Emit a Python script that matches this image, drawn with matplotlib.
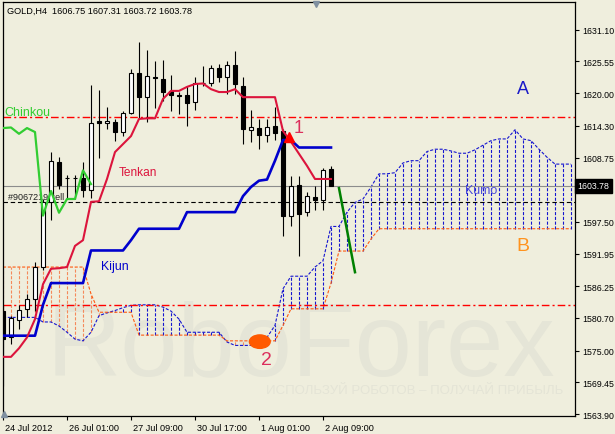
import numpy as np
import matplotlib.pyplot as plt
from matplotlib.patches import Ellipse
from matplotlib.transforms import ScaledTranslation

plt.rcParams['font.family'] = ['Liberation Sans', 'DejaVu Sans']

# GOLD H4 candles, bar 0 sits on the left edge of the chart
opens = [1582.0, 1577.4, 1580.4, 1582.3, 1584.0, 1589.6, 1601.0, 1608.0, 1605.2, 1605.2,
         1605.1, 1603.1, 1615.1, 1614.7, 1614.9, 1613.2, 1616.5, 1623.5, 1619.3, 1622.9,
         1622.5, 1620.3, 1619.6, 1619.6, 1618.4, 1621.7, 1621.7, 1624.4, 1622.8, 1624.9,
         1621.2, 1613.6, 1613.9, 1612.7, 1614.2, 1613.3, 1598.5, 1603.9, 1599.3, 1601.8,
         1601.3, 1606.75]
highs = [1583.0, 1581.0, 1583.0, 1584.9, 1590.5, 1601.5, 1609.8, 1608.9, 1605.7, 1605.7,
         1607.9, 1621.4, 1620.6, 1617.5, 1615.4, 1616.9, 1624.2, 1628.9, 1627.5, 1625.6,
         1625.8, 1623.1, 1620.2, 1621.2, 1622.9, 1624.8, 1625.0, 1625.1, 1625.7, 1627.4,
         1622.9, 1617.0, 1615.4, 1615.5, 1617.5, 1613.8, 1605.5, 1605.5, 1602.8, 1603.7,
         1607.0, 1607.31]
lows = [1568.8, 1576.1, 1578.7, 1580.9, 1582.0, 1589.0, 1597.8, 1603.2, 1601.6, 1601.5,
        1601.8, 1601.6, 1608.6, 1613.7, 1611.6, 1612.6, 1616.3, 1615.5, 1614.9, 1617.4,
        1618.7, 1616.8, 1616.4, 1614.2, 1617.1, 1621.2, 1621.3, 1621.9, 1619.8, 1619.8,
        1611.1, 1611.5, 1610.2, 1611.4, 1611.8, 1595.0, 1596.7, 1591.6, 1598.5, 1599.5,
        1599.5, 1603.72]
closes = [1577.0, 1580.7, 1582.1, 1584.0, 1589.6, 1600.9, 1608.2, 1604.0, 1605.1, 1605.1,
          1603.0, 1614.7, 1614.7, 1615.1, 1613.2, 1616.5, 1623.5, 1619.4, 1623.0, 1622.7,
          1620.2, 1619.6, 1619.5, 1618.3, 1621.7, 1621.8, 1624.4, 1622.8, 1624.9, 1621.6,
          1613.7, 1614.0, 1612.7, 1614.0, 1613.0, 1598.5, 1603.7, 1598.9, 1602.0, 1601.4,
          1606.6, 1603.78]

# Ichimoku lines
tenkan = [1573.9, 1573.9, 1575.4, 1577.3, 1580.5, 1586.6, 1589.3, 1589.4, 1589.6, 1593.3,
          1594.3, 1601.0, 1601.1, 1605.0, 1609.7, 1611.1, 1612.5, 1615.5, 1615.6, 1615.6,
          1619.0, 1620.4, 1620.4, 1621.1, 1621.6, 1621.7, 1620.7, 1620.2, 1620.2, 1620.7,
          1619.3, 1619.3, 1619.3, 1619.3, 1619.3, 1613.4, 1611.5, 1609.4, 1607.3, 1605.0,
          1605.0, 1605.0]
kijun = [1577.6, 1577.6, 1577.6, 1577.6, 1577.6, 1583.0, 1586.8, 1586.8, 1586.8, 1586.8,
         1586.8, 1592.5, 1592.5, 1592.5, 1592.5, 1592.5, 1594.3, 1596.3, 1596.3, 1596.3,
         1596.3, 1596.3, 1596.3, 1599.2, 1599.2, 1599.2, 1599.2, 1599.2, 1599.2, 1599.2,
         1602.0, 1603.6, 1604.7, 1604.9, 1608.2, 1611.8, 1611.8, 1610.5, 1610.5, 1610.5,
         1610.5, 1610.5]
chinkou = [1613.9, 1614.0, 1612.9, 1613.9, 1613.2, 1598.6, 1602.9, 1599.1, 1601.5, 1601.5,
           1606.5, 1604.1]
senkou_a = [1580.8, 1580.8, 1580.8, 1580.8, 1580.8, 1580.0, 1580.0, 1579.3, 1578.2, 1577.0,
            1576.7, 1578.2, 1581.1, 1581.6, 1582.0, 1582.5, 1582.9, 1583.0, 1583.0, 1583.0,
            1582.6, 1581.9, 1580.5, 1578.2, 1578.2, 1578.2, 1578.2, 1578.2, 1576.5, 1575.9,
            1575.9, 1575.9, 1576.2, 1577.3, 1579.4, 1585.8, 1588.0, 1588.0, 1588.0, 1589.6,
            1590.7, 1596.7, 1596.7, 1599.2, 1600.9, 1601.5, 1603.6, 1605.9, 1605.9, 1606.1,
            1607.8, 1608.2, 1608.2, 1609.8, 1610.2, 1610.2, 1609.9, 1609.5, 1609.5, 1610.1,
            1610.9, 1611.7, 1612.0, 1612.0, 1613.6, 1612.0, 1611.7, 1610.2, 1608.8, 1607.6,
            1607.6, 1607.6]
senkou_b = [1589.6] * 11 + [1584.9] + [1581.7] * 5 + [1577.7] * 11 + [1576.7] * 7 + \
           [1579.4] + [1582.3] * 5 + [1586.8] + [1592.4] * 4 + [1594.5] + [1596.3] * 25

# hand drawn forecast and levels
forecast_bars = [42, 44]
forecast_prices = [1603.4, 1588.7]
red_levels = [1615.84, 1582.97]
last_price = 1603.78
order_price = 1600.98

y_ticks = [1631.10, 1625.55, 1620.00, 1614.30, 1608.75, 1597.50, 1591.95,
           1586.25, 1580.70, 1575.00, 1569.45, 1563.90]
date_bars = [0, 8, 16, 24, 32, 40]
date_labels = ["24 Jul 2012", "26 Jul 01:00", "27 Jul 09:00",
               "30 Jul 17:00", "1 Aug 01:00", "2 Aug 09:00"]

BG = '#EFEEDD'
DOT = (0, (2.8, 1.5))

fig = plt.figure(figsize=(6.15, 4.35), dpi=100, facecolor=BG)
ax = fig.add_axes([3 / 615, 18 / 435, 572 / 615, 414 / 435])
ax.set_facecolor(BG)
ax.set_xlim(0, 71.5)
ax.set_ylim(1563.56, 1635.94)

# watermark
ax.text(0.077, 0.101, "RoboForex", transform=ax.transAxes, fontsize=74,
        color='#E5E5D7', va='baseline', ha='left', zorder=0.5)
ax.text(0.979, 0.062, "ИСПОЛЬЗУЙ РОБОТОВ – ПОЛУЧАЙ ПРИБЫЛЬ", transform=ax.transAxes,
        fontsize=9.5, color='#E4E4D6', va='center', ha='right', zorder=0.5)

# kumo
sa = np.array(senkou_a)
sb = np.array(senkou_b)
cx = np.arange(len(sa))
bull = sa >= sb
ax.vlines(cx[bull], sb[bull], sa[bull], colors='#1515D0', linestyles=DOT, lw=0.8, zorder=1)
ax.vlines(cx[~bull], sa[~bull], sb[~bull], colors='#F5895A', linestyles=DOT, lw=0.8, zorder=1)
ax.plot(cx, sa, color='#1515D0', ls=DOT, lw=0.8, zorder=1.2)
ax.plot(cx, sb, color='#FF5A10', ls=DOT, lw=0.8, zorder=1.2)

# levels
for lv in red_levels:
    ax.axhline(lv, color='#FF0000', lw=1.0, ls=(0, (5.5, 2.2, 1.5, 2.2)), zorder=2)
ax.axhline(last_price, color='#8C8C8C', lw=0.8, zorder=2)
ax.axhline(order_price, color='black', lw=0.8, ls=(0, (4, 2.5)), zorder=2)
ax.text(0.66, 1601.9, "#9067219 sell", fontsize=6.5, color='#202020',
        va='center', ha='left', zorder=2.2)

# candles
o = np.array(opens)
c = np.array(closes)
bars = np.arange(len(c))
up = c >= o
ax.vlines(bars, lows, highs, color='black', lw=0.8, zorder=3)
ax.bar(bars[up], (c - o)[up], bottom=o[up], width=0.5, facecolor='white',
       edgecolor='black', linewidth=0.8, zorder=3.1)
ax.bar(bars[~up], (o - c)[~up], bottom=c[~up], width=0.5, facecolor='black',
       edgecolor='black', linewidth=0.8, zorder=3.1)

# indicator lines
ax.plot(np.arange(len(chinkou)), chinkou, color='#32CD32', lw=1.6, zorder=4)
ax.plot(bars, kijun, color='#0000CD', lw=1.9, zorder=4.1)
ax.plot(bars, tenkan, color='#DC143C', lw=1.5, zorder=4.2)
ax.plot(forecast_bars, forecast_prices, color='#008000', lw=1.8, zorder=4.3)
ax.plot([35.7], [1612.3], marker='^', ms=7, color='#FF0000', zorder=4.4)

# annotations
ax.add_patch(Ellipse((32.1, 1576.56), 2.6, 2.35, color='#FF5A00', zorder=5))
ax.text(0.125, 1616.7, "Chinkou", fontsize=9, color='#32CD32', va='center', zorder=5)
ax.text(14.4, 1606.2, "Tenkan", fontsize=8.6, color='#DC143C', va='center', zorder=5)
ax.text(12.25, 1589.7, "Kijun", fontsize=8.8, color='#0000CD', va='center', zorder=5)
ax.text(57.8, 1603.1, "Kumo", fontsize=9, color='#4B4BDB', va='center', zorder=5)
ax.text(65.0, 1620.85, "A", fontsize=13, color='#1A1AC8', ha='center', va='center', zorder=5)
ax.text(64.94, 1593.4, "B", fontsize=14, color='#FF931E', ha='center', va='center', zorder=5)
ax.text(36.9, 1614.0, "1", fontsize=13, color='#DC2F5C', ha='center', va='center', zorder=5)
ax.text(32.94, 1573.5, "2", fontsize=14, color='#DC2F5C', ha='center', va='center', zorder=5)

ax.text(0.007, 0.981, "GOLD,H4  1606.75 1607.31 1603.72 1603.78", transform=ax.transAxes,
        fontsize=6.6, color='black', va='center', ha='left', zorder=6)
ax.plot([39.1], [0.995], marker='v', ms=5, color='#8090A0', clip_on=False,
        transform=ax.get_xaxis_transform(), zorder=6)
ax.plot([0.15], [0.006], marker='^', ms=4, color='#8090A0', clip_on=False,
        transform=ax.get_xaxis_transform(), zorder=6)

# axes
for sp in ax.spines.values():
    sp.set_color('black')
    sp.set_linewidth(0.9)
ax.yaxis.tick_right()
ax.set_yticks(y_ticks)
ax.set_yticklabels([f"{v:.2f}" for v in y_ticks])
ax.tick_params(axis='y', direction='out', length=3, width=0.8, pad=2,
               labelsize=6.3, colors='black')
ax.set_xticks(date_bars)
ax.set_xticklabels(date_labels)
ax.tick_params(axis='x', direction='out', length=3, width=0.8, pad=2, labelsize=6.6)
shift = ScaledTranslation(2 / 100, 0, fig.dpi_scale_trans)
for lbl in ax.get_xticklabels():
    lbl.set_horizontalalignment('left')
    lbl.set_transform(lbl.get_transform() + shift)

ax.text(1.004, last_price, f"{last_price:.2f}", transform=ax.get_yaxis_transform(),
        fontsize=6.3, color='white', va='center', ha='left', zorder=7, clip_on=False,
        bbox=dict(boxstyle='square,pad=0.3', fc='black', ec='black'))

fig.savefig('out.png', dpi=100, facecolor=BG)
